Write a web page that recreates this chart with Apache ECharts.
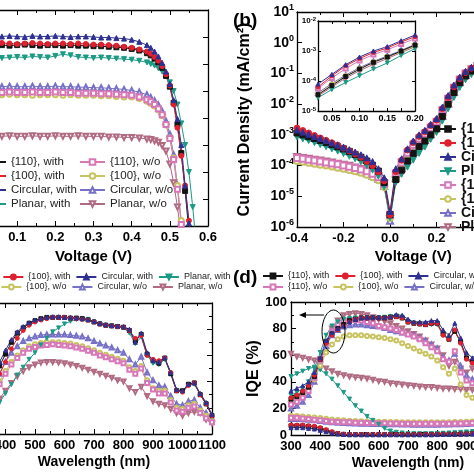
<!DOCTYPE html>
<html><head><meta charset="utf-8">
<script src="https://cdn.jsdelivr.net/npm/echarts@6/dist/echarts.min.js"></script>
<style>html,body{margin:0;padding:0;background:#fff}#c{width:474px;height:474px}</style>
</head><body><div id="c"></div>
<script>
// ---------- legend / series names ----------
const seriesNames = ['{110}, with','{100}, with','Circular, with','Planar, with','{110}, w/o','{100}, w/o','Circular, w/o','Planar, w/o'];

// ---------- (a) light J-V ----------
const voltageA = [0,0.02,0.04,0.06,0.08,0.10,0.12,0.14,0.16,0.18,0.20,0.22,0.24,0.26,0.28,0.30,0.32,0.34,0.36,0.38,0.40,0.42,0.44,0.45,0.46,0.47,0.48,0.49,0.50,0.51,0.52,0.53,0.54,0.55,0.56,0.57];
const jv110With = [33.6,33.5,33.6,33.5,33.4,33.5,33.6,33.5,33.4,33.5,33.5,33.4,33.5,33.4,33.4,33.3,33.3,33.2,33.1,33.0,32.8,32.5,32.0,31.6,31.0,30.3,29.3,27.8,25.8,22.8,18.8,13.5,6.5,-1,null,null];
const jv100With = [33.8,33.7,33.8,33.9,33.8,33.7,33.8,33.9,33.8,33.7,33.8,33.8,33.7,33.8,33.7,33.6,33.6,33.5,33.4,33.2,33.0,32.7,32.3,31.9,31.3,30.6,29.6,28.1,26.0,22.5,18.2,13.0,7.5,1.0,-6,null];
const jvCircWith = [35.0,35.1,35.0,35.1,35.2,35.1,35.0,35.2,35.1,35.1,35.2,35.1,35.0,35.1,35.1,35.0,34.9,34.9,34.8,34.7,34.5,34.1,33.5,33.0,32.3,31.4,30.2,28.6,26.3,23.3,19.8,15.0,7.5,0.5,-7,null];
const jvPlanWith = [31.3,31.2,31.2,31.1,31.2,31.3,31.2,31.4,31.3,31.2,31.5,31.8,31.6,31.3,31.2,31.1,31.2,31.1,31.0,30.9,30.8,30.6,30.3,30.0,29.7,29.2,28.6,27.8,26.6,25.0,22.5,19.0,15.0,10.0,3.5,-4];
const jv110Wo = [24.8,24.7,24.8,24.7,24.8,24.7,24.7,24.8,24.7,24.7,24.8,24.7,24.7,24.6,24.6,24.6,24.5,24.5,24.4,24.3,24.2,23.9,23.4,23.0,22.5,21.7,20.6,18.8,16.2,12.3,6.8,0.3,-6,null,null,null];
const jv100Wo = [24.3,24.4,24.3,24.3,24.4,24.3,24.3,24.2,24.3,24.3,24.3,24.2,24.3,24.2,24.2,24.2,24.1,24.1,24.0,23.9,23.9,23.6,23.1,22.7,22.2,21.5,20.4,18.7,16.3,12.6,7.5,1.0,-5,null,null,null];
const jvCircWo = [25.9,25.8,25.9,25.8,25.9,25.8,25.8,25.9,25.8,25.8,25.9,25.8,25.8,25.7,25.7,25.6,25.6,25.5,25.4,25.3,25.1,24.8,24.3,23.8,23.2,22.4,21.2,19.4,17.0,13.2,7.5,0.7,-6,null,null,null];
const jvPlanWo = [16.6,16.7,16.6,16.6,16.7,16.6,16.6,16.7,16.6,16.6,16.7,16.6,16.6,16.7,16.6,16.6,16.6,16.5,16.5,16.4,16.4,16.3,16.1,16.0,15.8,15.5,14.9,13.9,11.5,8.0,3.5,-2,null,null,null,null];

// ---------- (b) dark J-V (|J|, mA/cm2) ----------
const voltageB = [-0.4,-0.375,-0.35,-0.325,-0.3,-0.275,-0.25,-0.225,-0.2,-0.175,-0.15,-0.125,-0.1,-0.075,-0.05,-0.025,0,0.025,0.05,0.075,0.1,0.125,0.15,0.175,0.2,0.225,0.25,0.275,0.3,0.325,0.35,0.375,0.4];
const jd110With = [1.15e-3,1.0e-3,8.7e-4,7.6e-4,6.6e-4,5.6e-4,4.8e-4,4.1e-4,3.5e-4,2.9e-4,2.3e-4,1.86e-4,1.41e-4,1.02e-4,6.6e-5,2.8e-5,2.5e-6,3.5e-5,7.1e-5,1.41e-4,2.5e-4,4.2e-4,6.3e-4,1.0e-3,1.58e-3,4.0e-3,1.0e-2,2.4e-2,5.0e-2,8.3e-2,0.12,0.158,0.19];
const jd100With = [1.66e-3,1.38e-3,1.15e-3,9.5e-4,7.9e-4,6.6e-4,5.5e-4,4.6e-4,3.7e-4,3.0e-4,2.4e-4,1.86e-4,1.38e-4,1.0e-4,6.3e-5,3.2e-5,2.5e-6,6.3e-5,1.48e-4,3.2e-4,5.6e-4,8.9e-4,1.26e-3,2.0e-3,3.0e-3,7.1e-3,1.66e-2,3.7e-2,6.8e-2,0.107,0.148,0.186,0.224];
const jdCircWith = [1.45e-3,1.23e-3,1.05e-3,8.9e-4,7.6e-4,6.5e-4,5.5e-4,4.7e-4,4.0e-4,3.3e-4,2.75e-4,2.24e-4,1.78e-4,1.35e-4,7.9e-5,4.0e-5,3.2e-6,7.9e-5,1.66e-4,3.5e-4,6.3e-4,1.0e-3,1.4e-3,2.2e-3,3.4e-3,7.9e-3,1.9e-2,4.2e-2,7.6e-2,0.117,0.158,0.2,0.24];
const jdPlanWith = [8.5e-4,7.4e-4,6.5e-4,5.6e-4,4.8e-4,4.1e-4,3.5e-4,2.95e-4,2.45e-4,2.0e-4,1.66e-4,1.32e-4,1.0e-4,7.1e-5,4.5e-5,2.0e-5,2.0e-6,2.8e-5,5.2e-5,8.9e-5,1.5e-4,2.5e-4,4.0e-4,7.1e-4,1.2e-3,2.8e-3,7.1e-3,1.66e-2,3.5e-2,6.3e-2,9.3e-2,0.126,0.158];
const jd110Wo = [1.78e-4,1.66e-4,1.55e-4,1.45e-4,1.35e-4,1.26e-4,1.17e-4,1.1e-4,1.0e-4,9.1e-5,8.3e-5,7.4e-5,6.5e-5,5.4e-5,4.2e-5,2.5e-5,2.5e-6,5.6e-5,1.26e-4,2.6e-4,4.8e-4,7.6e-4,1.1e-3,1.7e-3,2.6e-3,6.3e-3,1.5e-2,3.4e-2,6.3e-2,0.1,0.138,0.174,0.21];
const jd100Wo = [1.41e-4,1.32e-4,1.23e-4,1.15e-4,1.07e-4,1.0e-4,9.3e-5,8.5e-5,7.9e-5,7.2e-5,6.5e-5,5.8e-5,5.0e-5,4.2e-5,3.3e-5,2.0e-5,2.0e-6,3.5e-5,7.6e-5,1.48e-4,2.5e-4,4.2e-4,6.3e-4,9.5e-4,1.5e-3,3.8e-3,9.5e-3,2.3e-2,4.8e-2,8.1e-2,0.117,0.155,0.186];
const jdCircWo = [1.58e-4,1.48e-4,1.38e-4,1.29e-4,1.2e-4,1.12e-4,1.05e-4,9.5e-5,8.9e-5,8.1e-5,7.2e-5,6.5e-5,5.6e-5,4.7e-5,3.7e-5,2.2e-5,1.6e-6,4.0e-5,8.3e-5,1.58e-4,2.8e-4,4.5e-4,6.8e-4,1.05e-3,1.66e-3,4.2e-3,1.05e-2,2.5e-2,5.2e-2,8.9e-2,0.126,0.166,0.2];
const jdPlanWo = [1.9e-4,1.78e-4,1.66e-4,1.55e-4,1.45e-4,1.35e-4,1.26e-4,1.15e-4,1.07e-4,9.8e-5,8.7e-5,7.8e-5,6.8e-5,5.6e-5,4.5e-5,2.6e-5,1.8e-6,3.2e-5,6.3e-5,1.26e-4,2.2e-4,3.6e-4,5.6e-4,8.9e-4,1.38e-3,3.4e-3,8.5e-3,2.0e-2,4.2e-2,7.2e-2,0.105,0.138,0.17];

// ---------- (c) EQE and (d) IQE / reflectance ----------
const wavelength = [300,320,340,360,380,400,420,440,460,480,500,520,540,560,580,600,620,640,660,680,700,720,740,760,780,800,820,840,860,880,900,920,940,960,980,1000,1020,1040,1060,1080,1100];
const eqe110With = [18,26,34,43,52,61,70,77,81,84.5,86.5,88,89,89,89,89,88.5,88.5,88,87,85.5,84,83,82.5,82,81.5,79,71,76,61,56,54,58,46,33,33,38,39,30,23,14];
const eqe100With = [14,21,29,38,46,55,65,73,79,83,85.5,87,88,89,89,89,88.5,88,87.5,87,85.5,84,83,82.5,82,81.5,79,73,75,60,57,56,58,47,33,32,37,39,30,23,14];
const eqeCircWith = [20,28,36,45,55,64,72,78,82,85,87,88,89,89.5,89.5,89,89,88.5,88,87.5,86,84.5,83.5,83,82.5,82,80,70,77,62,56,55,58,47,34,33,38,39,31,24,15];
const eqePlanWith = [5,8,12,17,24,31,38,45,51,57,62,68,73,78,81,84,86,87.5,88,87.5,85.5,84,83,82.5,82,81,77,69,74,60,54,53,57,46,33,32,37,38,30,23,14];
const eqe110Wo = [11,17,24,31,38,46,53,58,62,65,66.5,67.5,68,68.5,68,67.5,67,66,65,63.5,62,60,58.5,57,55.5,54,49,46,50,39,34,31,31,24,18,17,20,21,16,12,9];
const eqe100Wo = [12,18,25,33,40,48,55,60,64,67,68.5,69.5,70,70,70,69.5,69,68,67,65.5,64,62,60.5,59,57.5,56,51,48,52,41,35,33,33,26,20,19,22,23,18,14,10];
const eqeCircWo = [15,22,30,38,46,55,62,67,71,73,74.5,75.5,76,76,76,76,75.5,75,74.5,73,71,69,67.5,66,64,62,57,53,59,47,41,37,36,29,23,22,25,26,20,16,12];
const eqePlanWo = [8,12,17,22,27,33,39,44,48,51,53,54.5,55,55,54.5,54,53,52,50.5,49,47.5,46,44.5,43,41,40,35,32,36,29,25,23,22,19,16,14,16,17,16,11,8];

const iqe110With = [27,29,32,36,44,57,70,76,80,83,86,87,88,88,88,88,88,88.5,89,88,85,84,83.5,83,84,84,76,72,78,70,58,55,58,52,45,47,52,54,47,41,37];
const iqe100With = [28,30,33,37,45,57,69,75,79,82,85,87,88,88,88,88,88,88.5,89,88,85,84,83.5,83,84,84,75,72,79,69,57,54,57,51,44,46,51,53,46,40,36];
const iqeCircWith = [33,35,37,40,47,58,71,77,80,82,85,87,88,88.5,88.5,88.5,88.5,89,90.5,90,87,85,85,85,86,86,79,75,84,73,62,58,62,56,48,50,56,58,50,44,40];
const iqePlanWith = [30,32,35,40,50,62,75,82,85,87,87.5,88,88,88,88,88,88.5,89,89.5,88.5,85.5,84,83.5,83,83,83,75,72,78,70,57,54,58,52,45,47,52,54,47,41,37];
const iqe110Wo = [23,25,28,33,43,56,69,78,83,85.5,86.5,86.5,86,85,84,82,81,80,79,77,75.5,74,72,69,66,63,57,55,63,47,41,39,40,35,30,29,32,33,29,25,21];
const iqe100Wo = [25,27,30,35,42,52,62,68,72,74,75,75,75,74.5,74,73.5,73,72,71,69,67,65,63,61,59,56,51,46,50,38,30,28,29,26,23,22,25,26,23,19,16];
const iqeCircWo = [20,22,25,30,40,54,67,75,79,81.5,82.5,83,83,82.5,82,81.5,80.5,79,78,77,76,75,73,71,68,65,58,56,61,52,45,42,42,37,32,31,34,35,31,27,23];
const iqePlanWo = [23,25,28,33,44,57,70,80,86,90,91,91.5,91,90,88.5,87,85.5,84,82,80,78,76,74,71,68,65,60,52,55,50,47,50,48,42,36,35,38,39,35,30,26];

const refl110With = [7,7,7,6.5,6,5,3.5,2,1,0.5,0.3,0.3,0.3,0.3,0.3,0.3,0.3,0.3,0.3,0.3,0.3,0.3,0.3,0.3,0.3,0.4,0.5,0.5,0.6,0.7,0.8,0.9,1,1.1,1.2,1.3,1.4,1.5,1.6,1.7,1.8];
const refl100With = [7.5,7.5,7.5,7,6.5,5.5,4,2.5,1.2,0.6,0.4,0.4,0.4,0.4,0.4,0.4,0.4,0.4,0.4,0.4,0.4,0.4,0.4,0.4,0.4,0.5,0.6,0.6,0.7,0.8,0.9,1,1.1,1.2,1.3,1.4,1.5,1.6,1.7,1.8,1.9];
const reflCircWith = [5.5,5.5,5.5,5,4.5,3.5,2.5,1.5,0.8,0.4,0.2,0.2,0.2,0.2,0.2,0.2,0.2,0.2,0.2,0.2,0.2,0.2,0.2,0.2,0.2,0.3,0.4,0.4,0.5,0.6,0.7,0.8,0.9,1,1.1,1.2,1.3,1.4,1.5,1.6,1.7];
const reflPlanWith = [44,46,48,50,51,49,46,42,37,32,27,22,18,14,11,8,5,3,2,1.5,1,1,1,1,1,1.2,1.3,1.5,1.7,2,2.3,2.6,3,3.3,3.6,4,4.3,4.6,5,5.3,5.6];
const refl110Wo = [13,13,12.5,12,11.5,11,10.5,10,9.8,9.6,9.5,9.3,9.2,9,9,8.9,8.8,8.7,8.6,8.5,8.5,8.4,8.4,8.4,8.4,8.4,8.5,8.5,8.6,8.7,8.8,9,9.2,9.4,9.6,9.8,10,10.2,10.4,10.6,10.8];
const refl100Wo = [14.5,14.3,14,13.6,13.2,12.7,12.2,11.7,11.3,11,10.8,10.6,10.4,10.2,10.1,10,9.9,9.8,9.7,9.6,9.6,9.5,9.5,9.5,9.5,9.5,9.6,9.6,9.7,9.8,10,10.2,10.4,10.6,10.9,11.2,11.5,11.8,12.1,12.4,12.7];
const reflCircWo = [12,12,11.8,11.5,11,10.5,10,9.6,9.3,9,8.8,8.6,8.5,8.4,8.3,8.2,8.1,8,8,7.9,7.9,7.8,7.8,7.8,7.8,7.8,7.9,7.9,8,8.1,8.2,8.4,8.6,8.8,9,9.2,9.4,9.6,9.8,10,10.2];
const reflPlanWo = [61,59,58,57,56,53,50,48,46,45,44,43.5,43,42.5,41.5,40.5,40,39,38.5,38,37.5,37,36.5,36,36,35.5,35,35,34.5,34.5,34,34,34,33.5,33.5,33.5,33.5,33.5,33.5,33.5,33.5];

// ---------- styling ----------
const FONT = "'Liberation Sans', Arial, Helvetica, sans-serif";
const COLORS = ['#141414','#e0202e','#2e3192','#1c9a86','#d877b8','#c8c35e','#7670c6','#b06a82'];
const SYMBOLS = ['rect','circle','triangle','triangle','emptyRect','emptyCircle','emptyTriangle','emptyTriangle'];
const ROT = [0,0,0,180,0,0,0,180];

function mk(i, xs, ys, xi, yi, size) {
  const data = [];
  xs.forEach((x, k) => { if (ys[k] !== null && ys[k] !== undefined) data.push([x, ys[k]]); });
  return {
    type: 'line', name: seriesNames[i], xAxisIndex: xi, yAxisIndex: yi, data: data,
    symbol: SYMBOLS[i], symbolRotate: ROT[i], symbolSize: size, showSymbol: true, clip: true,
    lineStyle: { color: COLORS[i], width: 1 },
    itemStyle: { color: COLORS[i], borderColor: COLORS[i], borderWidth: 1 },
    emphasis: { disabled: true }, silent: true, animation: false
  };
}

function ax(o) {
  const a = {
    type: o.type || 'value', gridIndex: o.grid, position: o.pos,
    axisLine: { show: true, onZero: false, lineStyle: { color: '#000', width: 1.3 } },
    axisTick: { show: true, inside: true, length: o.tickLen || 5, lineStyle: { color: '#000', width: 1 } },
    minorTick: { show: !!o.minor, splitNumber: o.minor || 2, length: o.minorLen || 3, lineStyle: { color: '#000', width: 1 } },
    splitLine: { show: false }, minorSplitLine: { show: false },
    axisLabel: { show: !!o.label, color: '#000', fontFamily: FONT, fontWeight: 'bold', fontSize: o.fontSize || 13, margin: o.margin || 5, showMinLabel: true, showMaxLabel: true, hideOverlap: false },
    name: o.name || '', nameLocation: 'middle', nameGap: o.nameGap || 20,
    nameTextStyle: { color: '#000', fontFamily: FONT, fontWeight: 'bold', fontSize: o.nameSize || 15 },
    silent: true
  };
  ['min','max','interval','splitNumber','logBase'].forEach(k => { if (o[k] !== undefined) a[k] = o[k]; });
  if (o.formatter) a.axisLabel.formatter = o.formatter;
  if (o.rich) a.axisLabel.rich = o.rich;
  return a;
}
const fmt1 = v => (Math.abs(v) < 1e-9 ? 0 : v).toFixed(1);
const fmtInt = v => String(Math.round(v));
const fmtInset = v => (Math.abs(v * 20 - Math.round(v * 20)) < 1e-6 ? v.toFixed(2) : '');
const fmtPow = v => '{b|10}{s|' + Math.round(Math.log10(v)) + '}';

const xAxis = [
  ax({grid:0,pos:'bottom',min:0,max:0.6,interval:0.1,minor:2,label:true,formatter:fmt1,name:'Voltage (V)',nameGap:23}),
  ax({grid:0,pos:'top',min:0,max:0.6,interval:0.1,minor:2}),
  ax({grid:1,pos:'bottom',min:-0.4,max:0.6,interval:0.2,minor:2,label:true,formatter:fmt1,name:'Voltage (V)',nameGap:22}),
  ax({grid:1,pos:'top',min:-0.4,max:0.6,interval:0.2,minor:2}),
  ax({grid:2,pos:'bottom',min:0.025,max:0.2,interval:0.025,label:true,fontSize:9,margin:3,formatter:fmtInset,tickLen:3}),
  ax({grid:2,pos:'top',min:0.025,max:0.2,interval:0.025,tickLen:3}),
  ax({grid:3,pos:'bottom',min:300,max:1100,interval:100,minor:2,label:true,formatter:fmtInt,name:'Wavelength (nm)',nameGap:21,nameSize:14}),
  ax({grid:3,pos:'top',min:300,max:1100,interval:100,minor:2}),
  ax({grid:4,pos:'bottom',min:300,max:1100,interval:100,minor:2,label:true,formatter:fmtInt,name:'Wavelength (nm)',nameGap:21,nameSize:14}),
  ax({grid:4,pos:'top',min:300,max:1100,interval:100,minor:2})
];
const richMain = { b:{fontSize:14,fontWeight:'bold',fontFamily:FONT,color:'#000',lineHeight:18}, s:{fontSize:9,fontWeight:'bold',fontFamily:FONT,color:'#000',lineHeight:9,verticalAlign:'top'} };
const richInset = { b:{fontSize:8,fontWeight:'bold',fontFamily:FONT,color:'#000',lineHeight:10}, s:{fontSize:6,fontWeight:'bold',fontFamily:FONT,color:'#000',lineHeight:6,verticalAlign:'top'} };
const yAxis = [
  ax({grid:0,pos:'left',min:0,max:40,interval:5}),
  ax({grid:0,pos:'right',min:0,max:40,interval:5}),
  ax({grid:1,pos:'left',type:'log',logBase:10,min:1e-6,max:10,splitNumber:7,label:true,formatter:fmtPow,rich:richMain,margin:3,name:'Current Density (mA/cm²)',nameGap:44,nameSize:16}),
  ax({grid:1,pos:'right',type:'log',logBase:10,min:1e-6,max:10,splitNumber:7}),
  ax({grid:2,pos:'left',type:'log',logBase:10,min:1e-5,max:1e-2,splitNumber:3,label:true,formatter:fmtPow,rich:richInset,margin:2,tickLen:3}),
  ax({grid:2,pos:'right',type:'log',logBase:10,min:1e-5,max:1e-2,splitNumber:3,tickLen:3}),
  ax({grid:3,pos:'left',min:0,max:100,interval:20,minor:2}),
  ax({grid:3,pos:'right',min:0,max:100,interval:20,minor:2}),
  ax({grid:4,pos:'left',min:0,max:100,interval:20,minor:2,label:true,formatter:fmtInt,margin:4,name:'IQE (%)',nameGap:15,nameSize:16}),
  ax({grid:4,pos:'right',min:0,max:100,interval:20,minor:2})
];

const jvSets = [jv110With, jv100With, jvCircWith, jvPlanWith, jv110Wo, jv100Wo, jvCircWo, jvPlanWo];
const jdSets = [jd110With, jd100With, jdCircWith, jdPlanWith, jd110Wo, jd100Wo, jdCircWo, jdPlanWo];
const eqeSets = [eqe110With, eqe100With, eqeCircWith, eqePlanWith, eqe110Wo, eqe100Wo, eqeCircWo, eqePlanWo];
const iqeSets = [iqe110With, iqe100With, iqeCircWith, iqePlanWith, iqe110Wo, iqe100Wo, iqeCircWo, iqePlanWo];
const reflSets = [refl110With, refl100With, reflCircWith, reflPlanWith, refl110Wo, refl100Wo, reflCircWo, reflPlanWo];
const drawOrder = [7,6,5,4,3,0,1,2];

const series = [];
drawOrder.forEach(i => series.push(mk(i, voltageA, jvSets[i], 0, 0, 5)));
drawOrder.forEach(i => series.push(mk(i, voltageB, jdSets[i], 2, 2, 6)));
drawOrder.forEach(i => series.push(mk(i, voltageB, jdSets[i], 4, 4, 4)));
drawOrder.forEach(i => series.push(mk(i, wavelength, eqeSets[i], 6, 6, 4)));
drawOrder.forEach(i => series.push(mk(i, wavelength, reflSets[i], 8, 8, 4)));
drawOrder.forEach(i => series.push(mk(i, wavelength, iqeSets[i], 8, 8, 4)));

function lg(o) {
  return Object.assign({
    show: true, selectedMode: false, padding: 0,
    itemWidth: 20, itemHeight: 6, itemGap: 5, width: 600, height: 300,
    textStyle: { fontFamily: FONT, fontSize: 9, color: '#222', lineHeight: 10 }
  }, o);
}
const legend = [
  lg({orient:'vertical', left:-20, top:155, itemWidth:25, itemHeight:7, itemGap:0, data:seriesNames.slice(0,4), textStyle:{fontFamily:FONT,fontSize:11.5,color:'#222',lineHeight:14}}),
  lg({orient:'vertical', left:79, top:155, itemWidth:25, itemHeight:7, itemGap:0, data:seriesNames.slice(4,8), textStyle:{fontFamily:FONT,fontSize:11.5,color:'#222',lineHeight:14}}),
  lg({orient:'vertical', left:439, top:122, itemWidth:16, itemHeight:7, itemGap:0, data:seriesNames, textStyle:{fontFamily:FONT,fontSize:14,fontWeight:'bold',color:'#111',lineHeight:12.8}}),
  lg({orient:'horizontal', left:-70, top:272, data:seriesNames.slice(0,4)}),
  lg({orient:'horizontal', left:-70, top:282, data:seriesNames.slice(4,8)}),
  lg({orient:'horizontal', left:262, top:271, data:seriesNames.slice(0,4)}),
  lg({orient:'horizontal', left:262, top:282, data:seriesNames.slice(4,8)})
];

const gridBase = { containLabel: false, outerBoundsMode: 'none' };
const option = {
  animation: false,
  backgroundColor: '#fff',
  textStyle: { fontFamily: FONT },
  grid: [
    Object.assign({ left: -21, top: 10, width: 229, height: 216 }, gridBase),
    Object.assign({ left: 297, top: 12, width: 232.5, height: 215 }, gridBase),
    Object.assign({ left: 318, top: 21, width: 97, height: 90, show: true, backgroundColor: '#fff', borderWidth: 0 }, gridBase),
    Object.assign({ left: -24, top: 303, width: 236, height: 131 }, gridBase),
    Object.assign({ left: 291, top: 302, width: 234, height: 133 }, gridBase)
  ],
  xAxis: xAxis,
  yAxis: yAxis,
  legend: legend,
  series: series,
  graphic: [
    { type: 'text', x: 233, y: 11, z: 100, style: { text: '(b)', font: "bold 19px 'Liberation Sans', Arial", fill: '#000' } },
    { type: 'text', x: 233, y: 268, z: 100, style: { text: '(d)', font: "bold 19px 'Liberation Sans', Arial", fill: '#000' } },
    { type: 'ellipse', z: 100, shape: { cx: 333.5, cy: 331.5, rx: 11.5, ry: 21.5 }, style: { fill: 'none', stroke: '#000', lineWidth: 1 } },
    { type: 'line', z: 100, shape: { x1: 303, y1: 315, x2: 324, y2: 315 }, style: { stroke: '#000', lineWidth: 1 } },
    { type: 'polygon', z: 100, shape: { points: [[299, 315], [306, 312], [306, 318]] }, style: { fill: '#000' } }
  ]
};
const chart = echarts.init(document.getElementById('c'), null, { renderer: 'canvas', width: 474, height: 474 });
chart.setOption(option);
</script>
</body></html>
